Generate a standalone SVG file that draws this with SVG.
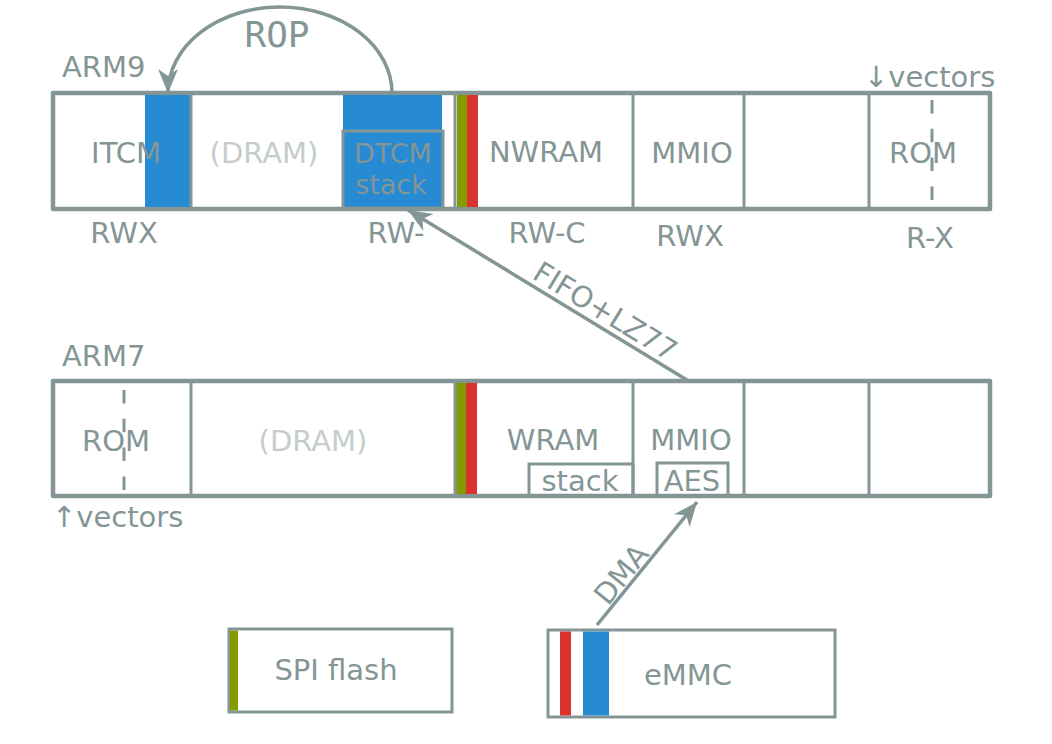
<svg xmlns="http://www.w3.org/2000/svg" width="1052" height="744" viewBox="0 0 1052 744">
<style>
.t{font-family:"DejaVu Sans","Liberation Sans",sans-serif;font-size:29px;fill:#849595}
.c{text-anchor:middle}
.dim{fill:#c5cccc}
.bar{fill:#fff;stroke:#849595;stroke-width:4.5;stroke-linejoin:round}
.div{stroke:#849595;stroke-width:3}
.box{fill:none;stroke:#849595;stroke-width:3}
.dash{stroke:#849595;stroke-width:3;stroke-dasharray:13.5 15.3}
.blue{fill:#268bd2}
.red{fill:#dc322f}
.olive{fill:#859900}
.conn{fill:none;stroke:#849595;stroke-width:3.5}
</style>
<defs>
<marker id="ah" markerUnits="userSpaceOnUse" viewBox="-26 -12 30 24" refX="0" refY="0" markerWidth="30" markerHeight="24" orient="auto">
<path d="M0,0 L-24,-10 L-17,0 L-24,10 Z" fill="#849595"/>
</marker>
</defs>
<rect width="1052" height="744" fill="#fff"/>

<g id="arm9">
<text class="t" x="62" y="77">ARM9</text>
<rect class="bar" x="53" y="93" width="937" height="116"/>
<rect class="blue" x="145" y="95" width="45" height="112"/>
<rect class="blue" x="343" y="95" width="99" height="112"/>
<rect class="olive" x="457" y="95" width="10" height="112"/>
<rect class="red" x="467" y="95" width="11" height="112"/>
<line class="div" x1="191" y1="93" x2="191" y2="209"/>
<line class="div" x1="455" y1="93" x2="455" y2="209"/>
<line class="div" x1="633" y1="93" x2="633" y2="209"/>
<line class="div" x1="744" y1="93" x2="744" y2="209"/>
<line class="div" x1="869" y1="93" x2="869" y2="209"/>
<rect class="box" x="343" y="131" width="100" height="77"/>
<line class="dash" x1="932" y1="100" x2="932" y2="200"/>
<text class="t c" x="126" y="163">ITCM</text>
<text class="t c dim" x="264" y="163">(DRAM)</text>
<text class="t c" style="font-size:27px"><tspan x="393" y="163">DTCM</tspan><tspan x="391" y="194">stack</tspan></text>
<text class="t c" x="546" y="162">NWRAM</text>
<text class="t c" x="692" y="163">MMIO</text>
<text class="t c" x="923" y="163">ROM</text>
<text class="t" x="864" y="87">↓vectors</text>
<text class="t c" x="124" y="243">RWX</text>
<text class="t c" x="396" y="243">RW-</text>
<text class="t c" x="547" y="243">RW-C</text>
<text class="t c" x="690" y="246">RWX</text>
<text class="t c" x="930" y="248">R-X</text>
</g>

<g id="arm7">
<text class="t" x="62" y="366">ARM7</text>
<rect class="bar" x="53" y="381" width="937" height="115"/>
<rect class="olive" x="456" y="383" width="10" height="111"/>
<rect class="red" x="466" y="383" width="11" height="111"/>
<line class="div" x1="191" y1="381" x2="191" y2="496"/>
<line class="div" x1="455" y1="381" x2="455" y2="496"/>
<line class="div" x1="633" y1="381" x2="633" y2="496"/>
<line class="div" x1="744" y1="381" x2="744" y2="496"/>
<line class="div" x1="869" y1="381" x2="869" y2="496"/>
<line class="dash" x1="124" y1="390" x2="124" y2="490"/>
<rect class="box" x="529" y="464" width="104" height="32"/>
<rect class="box" x="657" y="463" width="71" height="33"/>
<text class="t c" x="116" y="451">ROM</text>
<text class="t c dim" x="313" y="451">(DRAM)</text>
<text class="t c" x="553" y="450">WRAM</text>
<text class="t c" x="691" y="450">MMIO</text>
<text class="t c" x="580" y="491">stack</text>
<text class="t c" x="692" y="491">AES</text>
<text class="t" x="52" y="527">↑vectors</text>
</g>

<g id="spi">
<rect class="box" x="229" y="629" width="223" height="83"/>
<rect class="olive" x="230" y="630.5" width="8" height="80"/>
<text class="t c" x="336" y="680">SPI flash</text>
</g>

<g id="emmc">
<rect class="box" x="548" y="630" width="287" height="87"/>
<rect class="red" x="560" y="631.5" width="11" height="84"/>
<rect class="blue" x="583" y="631.5" width="26" height="84"/>
<text class="t c" x="688" y="685">eMMC</text>
</g>

<g id="connectors">
<path class="conn" d="M392,93 A112,86 0 0 0 168,93" marker-end="url(#ah)"/>
<text x="277" y="47" style="font-family:'DejaVu Sans Mono','Liberation Mono',monospace;font-size:36px;fill:#849595;text-anchor:middle">ROP</text>
<line class="conn" x1="687" y1="380" x2="408" y2="210" marker-end="url(#ah)"/>
<text class="t c" transform="translate(597,325) rotate(31.4)" x="0" y="-6">FIFO+LZ77</text>
<line class="conn" x1="597" y1="625" x2="697" y2="502" marker-end="url(#ah)"/>
<text class="t c" transform="translate(631.4,582.6) rotate(-50.9)" x="0" y="-3">DMA</text>
</g>
</svg>
